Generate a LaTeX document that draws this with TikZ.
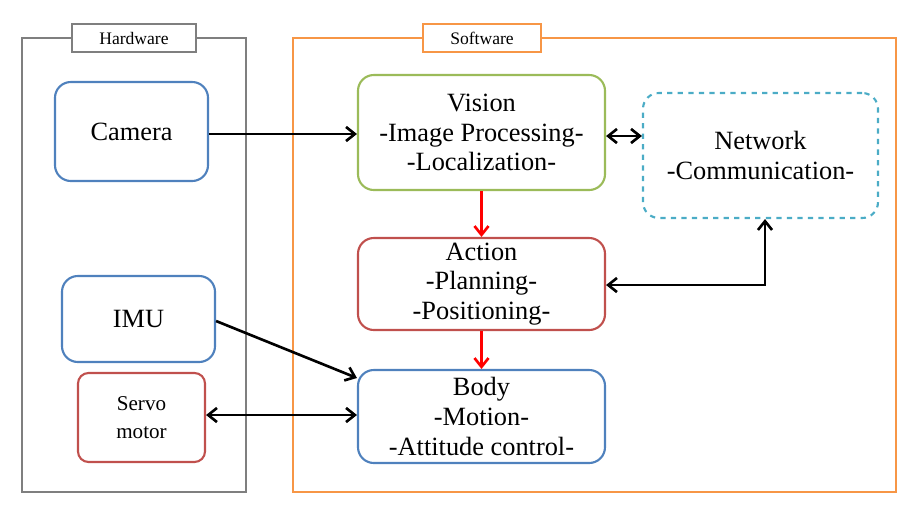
\documentclass[tikz,border=0pt]{standalone}
\usepackage{fontspec}
\setmainfont{Liberation Serif}
\usetikzlibrary{arrows.meta}
\definecolor{gr}{HTML}{7F7F7F}
\definecolor{og}{HTML}{F79646}
\definecolor{bl}{HTML}{4F81BD}
\definecolor{gn}{HTML}{9BBB59}
\definecolor{rd}{HTML}{C0504D}
\definecolor{cy}{HTML}{4BACC6}
\begin{document}
\begin{tikzpicture}[x=0.02cm,y=-0.02cm,
  frame/.style={draw,line width=1.2pt},
  lab/.style={line width=1.2pt,font=\fontsize{10}{12}\selectfont,anchor=center,text=black,fill=white},
  box/.style={draw,rounded corners=9pt,line width=1.2pt,align=center,font=\fontsize{15}{17}\selectfont,inner sep=0pt,text=black},
  arr/.style={line width=1.5pt,-{Straight Barb[length=5pt,width=8pt]}},
  darr/.style={line width=1.5pt,{Straight Barb[length=5pt,width=8pt]}-{Straight Barb[length=5pt,width=8pt]}},
  rarr/.style={line width=1.5pt,red,-{Straight Barb[length=5pt,width=8pt]}}]
\useasboundingbox (0,0) rectangle (907,511);
\draw[frame,gr] (22,38) rectangle (246,492);
\node[lab,draw=gr,minimum width=124*0.02cm,minimum height=28*0.02cm] (hw) at (134,38) {Hardware};
\draw[frame,og] (293,38) rectangle (896,492);
\node[lab,draw=og,minimum width=118*0.02cm,minimum height=28*0.02cm] (sw) at (482,38) {Software};
\node[box,draw=bl,minimum width=153*0.02cm,minimum height=99*0.02cm] (cam) at (131.5,131.5) {Camera};
\node[box,draw=bl,minimum width=153*0.02cm,minimum height=86*0.02cm] (imu) at (138.5,319) {IMU};
\node[box,draw=rd,minimum width=127*0.02cm,minimum height=89*0.02cm,rounded corners=6pt,font=\fontsize{12}{16}\selectfont] (servo) at (141.5,417.5) {Servo\\motor};
\node[box,draw=gn,minimum width=247*0.02cm,minimum height=115*0.02cm] (vis) at (481.5,132.5) {Vision\\-Image Processing-\\-Localization-};
\node[box,draw=cy,dashed,minimum width=235*0.02cm,minimum height=125*0.02cm] (net) at (760.5,155.5) {Network\\-Communication-};
\node[box,draw=rd,minimum width=247*0.02cm,minimum height=92*0.02cm] (act) at (481.5,284) {Action\\-Planning-\\-Positioning-};
\node[box,draw=bl,minimum width=247*0.02cm,minimum height=93*0.02cm] (body) at (481.5,416.5) {Body\\-Motion-\\-Attitude control-};
\draw[arr] (cam.east |- 0,134) -- (vis.west |- 0,134);
\draw[darr] (vis.east |- 0,136) -- (net.west |- 0,136);
\draw[rarr] (vis.south) -- (act.north);
\draw[rarr] (act.south) -- (body.north);
\draw[darr] (act.east |- 0,285) -- (765,285) -- (net.south -| 765,0);
\draw[arr] (imu.east |- 0,321) -- (body.west |- 0,378);
\draw[darr] (servo.east |- 0,415) -- (body.west |- 0,415);
\end{tikzpicture}
\end{document}
